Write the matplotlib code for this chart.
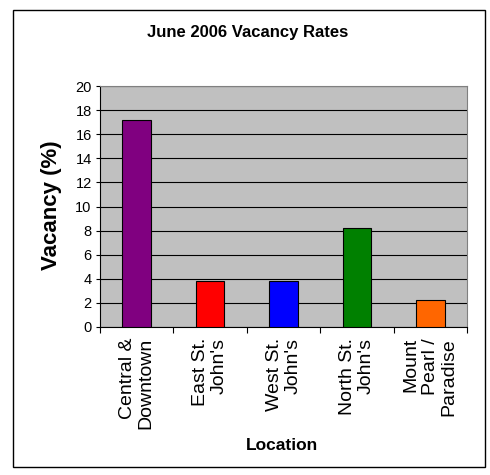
import numpy as np
import matplotlib.pyplot as plt
from matplotlib.patches import Rectangle

# Chart data
locations = ["Central &\nDowntown", "East St.\nJohn's", "West St.\nJohn's",
             "North St.\nJohn's", "Mount\nPearl /\nParadise"]
vacancy = [17.2, 3.8, 3.8, 8.2, 2.2]
bar_colors = ["#800080", "#FF0000", "#0000FF", "#008000", "#FF6600"]

plt.rcParams["font.family"] = ["Liberation Sans", "DejaVu Sans"]

fig = plt.figure(figsize=(4.9, 4.75), dpi=100)

# outer chart border
fig.patches.append(Rectangle((13 / 490, 1 - 467 / 475), 472 / 490, 457 / 475,
                             transform=fig.transFigure, fill=False,
                             edgecolor="black", linewidth=1.0))

ax = fig.add_axes([100 / 490, 1 - 327 / 475, 367 / 490, 241 / 475])
ax.set_facecolor("#C0C0C0")

x = np.arange(len(locations))
ax.bar(x, vacancy, width=0.39, color=bar_colors, edgecolor="black",
       linewidth=0.8, zorder=3)

ax.set_xlim(-0.5, len(locations) - 0.5)
ax.set_ylim(0, 20)
ax.set_yticks(np.arange(0, 21, 2))
ax.yaxis.grid(True, color="black", linewidth=0.8, zorder=1)
ax.set_axisbelow(True)

# category-boundary ticks, labels centred under bars
ax.set_xticks(np.arange(-0.5, len(locations), 1.0))
ax.set_xticklabels([])
ax.set_xticks(x, minor=True)
ax.set_xticklabels(locations, minor=True, rotation=90, fontsize=14,
                   ha="center", va="top", multialignment="right",
                   linespacing=1.15)
ax.tick_params(axis="x", which="minor", length=0, pad=8)
ax.tick_params(axis="x", which="major", length=4, width=0.8, direction="out")
ax.tick_params(axis="y", length=3, width=0.8, labelsize=10.5, pad=3)

for side in ["top", "right"]:
    ax.spines[side].set_color("#808080")
for side in ["left", "bottom"]:
    ax.spines[side].set_color("black")

fig.text(248 / 490, 1 - 33 / 475, "June 2006 Vacancy Rates",
         ha="center", va="center", fontsize=12, fontweight="bold")
fig.text(52 / 490, 1 - 205 / 475, "Vacancy (%)", rotation=90,
         ha="center", va="center", fontsize=16, fontweight="bold")
fig.text(282 / 490, 1 - 446 / 475, "Location",
         ha="center", va="center", fontsize=12.5, fontweight="bold")

fig.savefig("out.png", dpi=100)
